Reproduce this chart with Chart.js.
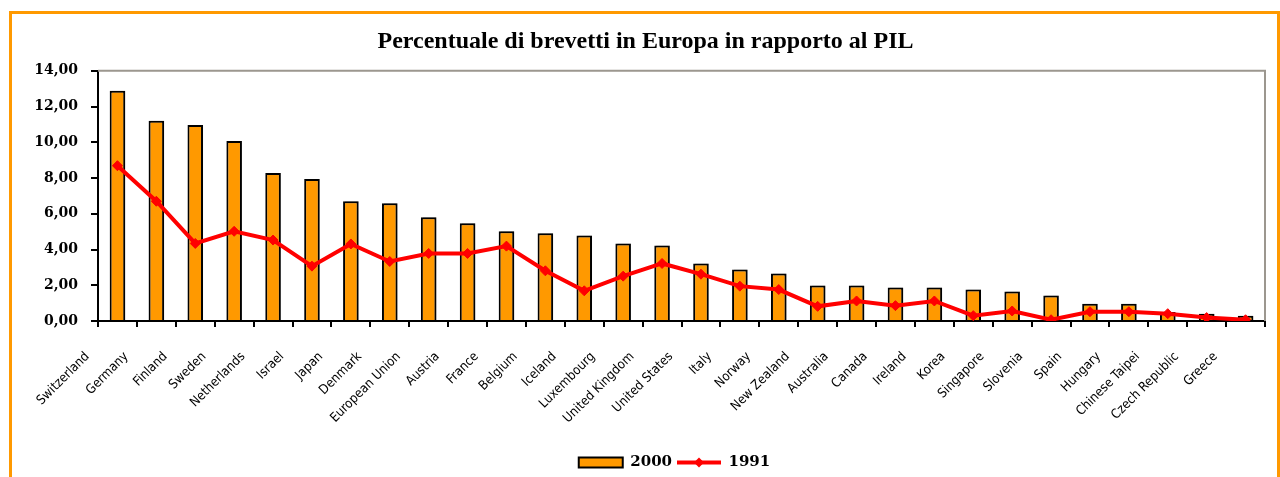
<!DOCTYPE html>
<html>
<head>
<meta charset="utf-8">
<script src="https://cdn.jsdelivr.net/npm/chart.js@4/dist/chart.umd.min.js"></script>
<style>
  html, body { margin: 0; padding: 0; background: #fff; overflow: hidden; }
  #frame { position: absolute; left: 9px; top: 11px; width: 1271px; height: 600px; box-sizing: border-box; border: 3px solid #ff9900; }
  #chart { position: absolute; left: 0; top: 0; }
</style>
</head>
<body>
<div id="frame"></div>
<canvas id="chart" width="1280" height="490"></canvas>
<script>
const categories = ['Switzerland', 'Germany', 'Finland', 'Sweden', 'Netherlands', 'Israel', 'Japan', 'Denmark',
    'European Union', 'Austria', 'France', 'Belgium', 'Iceland', 'Luxembourg', 'United Kingdom', 'United States',
    'Italy', 'Norway', 'New Zealand', 'Australia', 'Canada', 'Ireland', 'Korea', 'Singapore', 'Slovenia', 'Spain',
    'Hungary', 'Chinese Taipei', 'Czech Republic', 'Greece'];

const values2000 = [12.88, 11.2, 10.97, 10.07, 8.28, 7.94, 6.70, 6.59, 5.80, 5.47, 5.02, 4.91, 4.79, 4.34, 4.23,
    3.22, 2.88, 2.66, 1.98, 1.98, 1.87, 1.87, 1.76, 1.65, 1.42, 0.97, 0.97, 0.5, 0.41, 0.30];

const values1991 = [8.69, 6.70, 4.34, 5.02, 4.53, 3.07, 4.31, 3.33, 3.78, 3.78, 4.19, 2.81, 1.69, 2.51, 3.22,
    2.62, 1.95, 1.76, 0.82, 1.12, 0.86, 1.12, 0.30, 0.56, 0.07, 0.52, 0.52, 0.41, 0.19, 0.07];

const yTicks = [0, 2, 4, 6, 8, 10, 12, 14];

const serif = "'DejaVu Serif', 'Liberation Serif', serif";

// gray border on top and right of plot area, shadow under bars, diamond in legend
const extras = {
    id: 'extras',
    afterLayout(chart) {
        // title and legend sit a bit right of center in the original
        chart.legend.left += 84;
        chart.titleBlock.left += 26;
    },
    beforeDatasetsDraw(chart) {
        const { ctx, chartArea: a } = chart;
        ctx.save();
        ctx.strokeStyle = '#9c978f';
        ctx.lineWidth = 2;
        ctx.beginPath();
        ctx.moveTo(a.left, a.top);
        ctx.lineTo(a.right, a.top);
        ctx.lineTo(a.right, a.bottom);
        ctx.stroke();
        ctx.restore();
    },
    beforeDatasetDraw(chart, args) {
        if (args.meta.type === 'bar') {
            const ctx = chart.ctx;
            ctx.save();
            ctx.shadowColor = 'rgba(0,0,0,0.3)';
            ctx.shadowOffsetX = 2;
            ctx.shadowOffsetY = 0;
            ctx.shadowBlur = 0;
        }
    },
    afterDatasetDraw(chart, args) {
        if (args.meta.type === 'bar') chart.ctx.restore();
    },
    afterDraw(chart) {
        const lg = chart.legend;
        const i = lg.legendItems.findIndex((it) => it.text === '1991');
        const box = lg.legendHitBoxes[i];
        if (!box) return;
        const ctx = chart.ctx;
        const cx = box.left + 22;
        const cy = box.top + 7.5;
        const r = 5;
        ctx.save();
        ctx.fillStyle = '#ff0000';
        ctx.beginPath();
        ctx.moveTo(cx, cy - r);
        ctx.lineTo(cx + r, cy);
        ctx.lineTo(cx, cy + r);
        ctx.lineTo(cx - r, cy);
        ctx.closePath();
        ctx.fill();
        ctx.restore();
    }
};

new Chart(document.getElementById('chart'), {
    type: 'bar',
    data: {
        labels: categories,
        datasets: [
            {
                type: 'line',
                label: '1991',
                data: values1991,
                borderColor: '#ff0000',
                backgroundColor: '#ff0000',
                borderWidth: 4,
                pointStyle: 'rectRot',
                pointRadius: 5,
                pointBorderWidth: 1,
                tension: 0,
                order: 0,
            },
            {
                label: '2000',
                data: values2000,
                backgroundColor: '#ff9900',
                borderColor: '#000000',
                borderWidth: 2,
                borderSkipped: 'bottom',
                categoryPercentage: 1,
                barPercentage: 0.4,
                order: 1,
            },
        ],
    },
    options: {
        responsive: false,
        animation: false,
        devicePixelRatio: 1,
        layout: { padding: { left: 0, right: 15, top: 0, bottom: 10 } },
        scales: {
            x: {
                border: { color: '#000', width: 2 },
                grid: { drawOnChartArea: false, color: '#000', lineWidth: 2, tickLength: 6 },
                ticks: {
                    autoSkip: false,
                    minRotation: 45,
                    maxRotation: 45,
                    labelOffset: -30,
                    padding: 22,
                    color: '#000',
                    font: { family: "'Liberation Sans Narrow', 'DejaVu Sans Condensed', sans-serif", size: 13 },
                },
                afterFit(scale) { scale.height = 129; },
            },
            y: {
                min: 0,
                max: 14,
                border: { color: '#000', width: 2 },
                grid: { drawOnChartArea: false, color: '#000', lineWidth: 2, tickLength: 7 },
                afterBuildTicks(scale) { scale.ticks = yTicks.map((v) => ({ value: v })); },
                ticks: {
                    padding: 13,
                    color: '#000',
                    font: { family: serif, size: 14, weight: 'bold' },
                    callback: (v) => v.toFixed(2).replace('.', ','),
                },
                afterFit(scale) { scale.width = 98; },
            },
        },
        plugins: {
            title: {
                display: true,
                text: 'Percentuale di brevetti in Europa in rapporto al PIL',
                color: '#000',
                font: { family: "'Liberation Serif', serif", size: 24, weight: 'bold' },
                padding: { top: 27, bottom: 15 },
            },
            legend: {
                position: 'bottom',
                reverse: true,
                labels: {
                    usePointStyle: true,
                    pointStyleWidth: 44,
                    boxHeight: 10,
                    padding: 5,
                    color: '#000',
                    font: { family: serif, size: 15, weight: 'bold' },
                    generateLabels(chart) {
                        const items = Chart.defaults.plugins.legend.labels.generateLabels(chart);
                        items.forEach((it) => {
                            if (it.text === '2000') {
                                it.pointStyle = 'rect';
                                it.fillStyle = '#ff9900';
                                it.strokeStyle = '#000';
                                it.lineWidth = 2;
                            } else {
                                it.pointStyle = 'line';
                                it.strokeStyle = '#ff0000';
                                it.lineWidth = 4;
                            }
                        });
                        return items;
                    },
                },
            },
            tooltip: { enabled: false },
        },
    },
    plugins: [extras],
});
</script>
</body>
</html>
